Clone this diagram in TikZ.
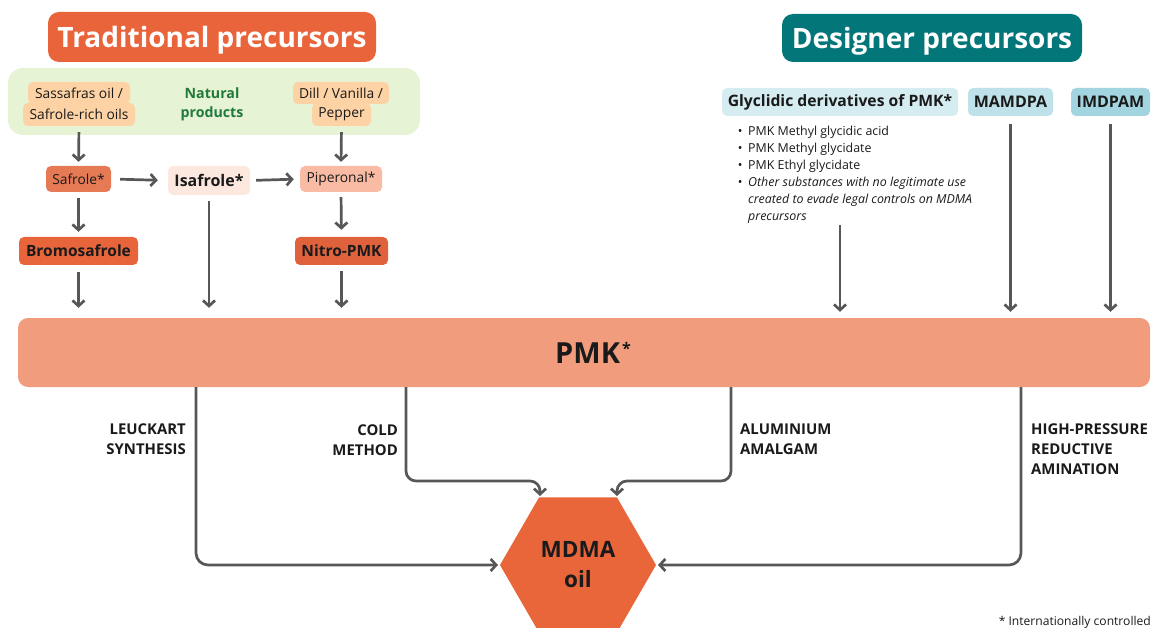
\documentclass[tikz,border=0pt]{standalone}
\usepackage{fontspec}
\setmainfont{Open Sans}
\usetikzlibrary{arrows.meta,shapes.geometric}
\definecolor{tradorange}{HTML}{E9643A}
\definecolor{greenbg}{HTML}{E7F3D5}
\definecolor{peach}{HTML}{FDD3A5}
\definecolor{natgreen}{HTML}{1F7A3B}
\definecolor{safrolec}{HTML}{E57A55}
\definecolor{isafrolec}{HTML}{FDE8E0}
\definecolor{piperonalc}{HTML}{F9BBA3}
\definecolor{bromoc}{HTML}{E8643A}
\definecolor{nitroc}{HTML}{E0623C}
\definecolor{pmkc}{HTML}{F29C7E}
\definecolor{tealc}{HTML}{03767A}
\definecolor{glyc}{HTML}{D5ECF1}
\definecolor{mamc}{HTML}{BFE2EA}
\definecolor{imdc}{HTML}{A3D5E0}
\definecolor{hexc}{HTML}{E9663A}
\definecolor{linegray}{HTML}{575757}
\definecolor{txt}{HTML}{1A1A1A}
\tikzset{
  box/.style={rounded corners=5pt, inner sep=0pt, text=txt, align=center},
  small/.style={font=\fontsize{13.8}{17}\selectfont},
  smallb/.style={font=\fontsize{15.5}{18}\selectfont\bfseries},
  title/.style={rounded corners=11pt, inner sep=0pt, text=white, text height=22pt, text depth=0pt,
                font=\fontsize{28}{32}\selectfont\bfseries},
  conn/.style={draw=linegray, line width=2.7pt, -{Straight Barb[length=5.5pt,width=12pt]}},
  route/.style={font=\fontsize{14.9}{20}\selectfont\bfseries, text=txt, inner sep=0pt},
}
\begin{document}
\begin{tikzpicture}[x=1pt,y=-1pt]
\useasboundingbox (0,0) rectangle (1151,628);

% ---- Traditional side
\node[title, fill=tradorange, minimum width=328pt, minimum height=50pt] (trad) at (212,37) {Traditional precursors};
\node[fill=greenbg, rounded corners=15pt, minimum width=412pt, minimum height=67pt, inner sep=0pt] (natbg) at (214,101.5) {};
\node[box, small, fill=peach, minimum width=102pt, minimum height=22pt] (sas1) at (79,93) {Sassafras oil /};
\node[box, small, fill=peach, minimum width=112pt, minimum height=23pt] (sas2) at (79,114.5) {Safrole-rich oils};
\node[font=\fontsize{14.2}{19}\selectfont\bfseries, text=natgreen, align=center, inner sep=0pt] (nat) at (212,104) {Natural\\products};
\node[box, small, fill=peach, minimum width=96pt, minimum height=22pt] (dill1) at (341,93) {Dill / Vanilla /};
\node[box, small, fill=peach, minimum width=59pt, minimum height=23pt] (dill2) at (341.5,114.5) {Pepper};

\node[box, small, fill=safrolec, minimum width=65pt, minimum height=26pt] (safrole) at (78.5,179) {Safrole*};
\node[box, font=\fontsize{16}{18}\selectfont\bfseries, fill=isafrolec, minimum width=82pt, minimum height=29pt] (isafrole) at (209,180.5) {Isafrole*};
\node[box, small, fill=piperonalc, minimum width=82pt, minimum height=26pt] (piperonal) at (341,179) {Piperonal*};
\node[box, smallb, fill=bromoc, minimum width=119pt, minimum height=28pt] (bromo) at (78.5,251) {Bromosafrole};
\node[box, smallb, fill=nitroc, minimum width=93pt, minimum height=28pt] (nitro) at (341.5,251) {Nitro-PMK};

% ---- PMK bar
\node[fill=pmkc, rounded corners=10pt, minimum width=1132pt, minimum height=69pt, inner sep=0pt, text=txt,
      font=\fontsize{29}{32}\selectfont\bfseries] (pmk) at (584,352.5) {\hspace*{18pt}PMK\hspace{2pt}\raisebox{9pt}{\fontsize{16}{16}\selectfont *}};

% ---- Designer side
\node[title, fill=tealc, minimum width=300pt, minimum height=48pt] (design) at (932,38) {Designer precursors};
\node[box, font=\fontsize{15.7}{18}\selectfont\bfseries, fill=glyc, minimum width=236pt, minimum height=28pt] (gly) at (840,102) {Glyclidic derivatives of PMK*};
\node[box, font=\fontsize{16}{18}\selectfont\bfseries, fill=mamc, minimum width=85pt, minimum height=28pt] (mam) at (1010.5,102) {MAMDPA};
\node[box, font=\fontsize{16}{18}\selectfont\bfseries, fill=imdc, minimum width=79pt, minimum height=28pt] (imd) at (1110.5,102) {IMDPAM};
\node[anchor=north west, inner sep=0pt, align=left, text=txt, font=\fontsize{12.4}{17}\selectfont] (glylist) at (732,126) {%
\makebox[16pt][c]{•}PMK Methyl glycidic acid\\
\makebox[16pt][c]{•}PMK Methyl glycidate\\
\makebox[16pt][c]{•}PMK Ethyl glycidate\\
\makebox[16pt][c]{•}\textit{Other substances with no legitimate use}\\
\hspace*{16pt}\textit{created to evade legal controls on MDMA}\\
\hspace*{16pt}\textit{precursors}};

% ---- MDMA hexagon
\node[regular polygon, regular polygon sides=6, minimum size=156pt, inner sep=0pt, outer sep=0pt, fill=hexc,
      text=txt, align=center, font=\fontsize{22.5}{30}\selectfont\bfseries] (hex) at (578,565) {MDMA\\oil};

% ---- route labels
\node[route, anchor=north east, align=right] (leulab) at (186,424) {LEUCKART\\SYNTHESIS};
\node[route, anchor=north east, align=right] (coldlab) at (398,424) {COLD\\METHOD};
\node[route, anchor=north west, align=left] (alulab) at (740,424) {ALUMINIUM\\AMALGAM};
\node[route, anchor=north west, align=left] (hplab) at (1031,424) {HIGH-PRESSURE\\REDUCTIVE\\AMINATION};

% ---- footnote
\node[anchor=base east, inner sep=0pt, text=txt, font=\fontsize{12.1}{14}\selectfont] (foot) at (1151,625.5) {* Internationally controlled};

% ---- coordinates for routes
\coordinate (xleu) at (196,0);
\coordinate (xcold) at (406,0);
\coordinate (xalu) at (731,0);
\coordinate (xhp) at (1021,0);
\coordinate (hexTL) at (540,497);
\coordinate (hexTR) at (617,497);
\coordinate (xgly) at (840,0);

% ---- connectors (top)
\draw[conn, shorten <=6pt, shorten >=4pt] (sas2.south) -- (safrole.north);
\draw[conn, shorten <=6pt, shorten >=4pt] (dill2.south) -- (piperonal.north);
\draw[conn, shorten <=9pt, shorten >=10pt] (safrole.east) -- (isafrole.west);
\draw[conn, shorten <=6pt, shorten >=6pt] (isafrole.east) -- (piperonal.west);
\draw[conn, shorten <=6pt, shorten >=5pt] (safrole.south) -- (bromo.north);
\draw[conn, shorten <=5pt, shorten >=7pt] (piperonal.south) -- (nitro.north);
\draw[conn, shorten <=7pt, shorten >=10pt] (bromo.south) -- (bromo.south |- pmk.north);
\draw[conn, shorten <=6pt, shorten >=10pt] (isafrole.south) -- (isafrole.south |- pmk.north);
\draw[conn, shorten <=6pt, shorten >=10pt] (nitro.south) -- (nitro.south |- pmk.north);
\draw[conn, shorten <=1pt, shorten >=6pt] (glylist.south -| xgly) -- (pmk.north -| xgly);
\draw[conn, shorten <=8pt, shorten >=6pt] (mam.south) -- (mam.south |- pmk.north);
\draw[conn, shorten <=8pt, shorten >=6pt] (imd.south) -- (imd.south |- pmk.north);

% ---- connectors (bottom)
\draw[conn, rounded corners=12pt, shorten >=2pt] (pmk.south -| xleu) |- (hex.west);
\draw[conn, rounded corners=12pt, shorten >=2pt] (pmk.south -| xhp) |- (hex.east);
\draw[conn, rounded corners=10pt, shorten >=1pt] (pmk.south -| xcold) -- (406,481) -- (540,481) -- (hexTL);
\draw[conn, rounded corners=10pt, shorten >=1pt] (pmk.south -| xalu) -- (731,481) -- (617,481) -- (hexTR);
\end{tikzpicture}
\end{document}
